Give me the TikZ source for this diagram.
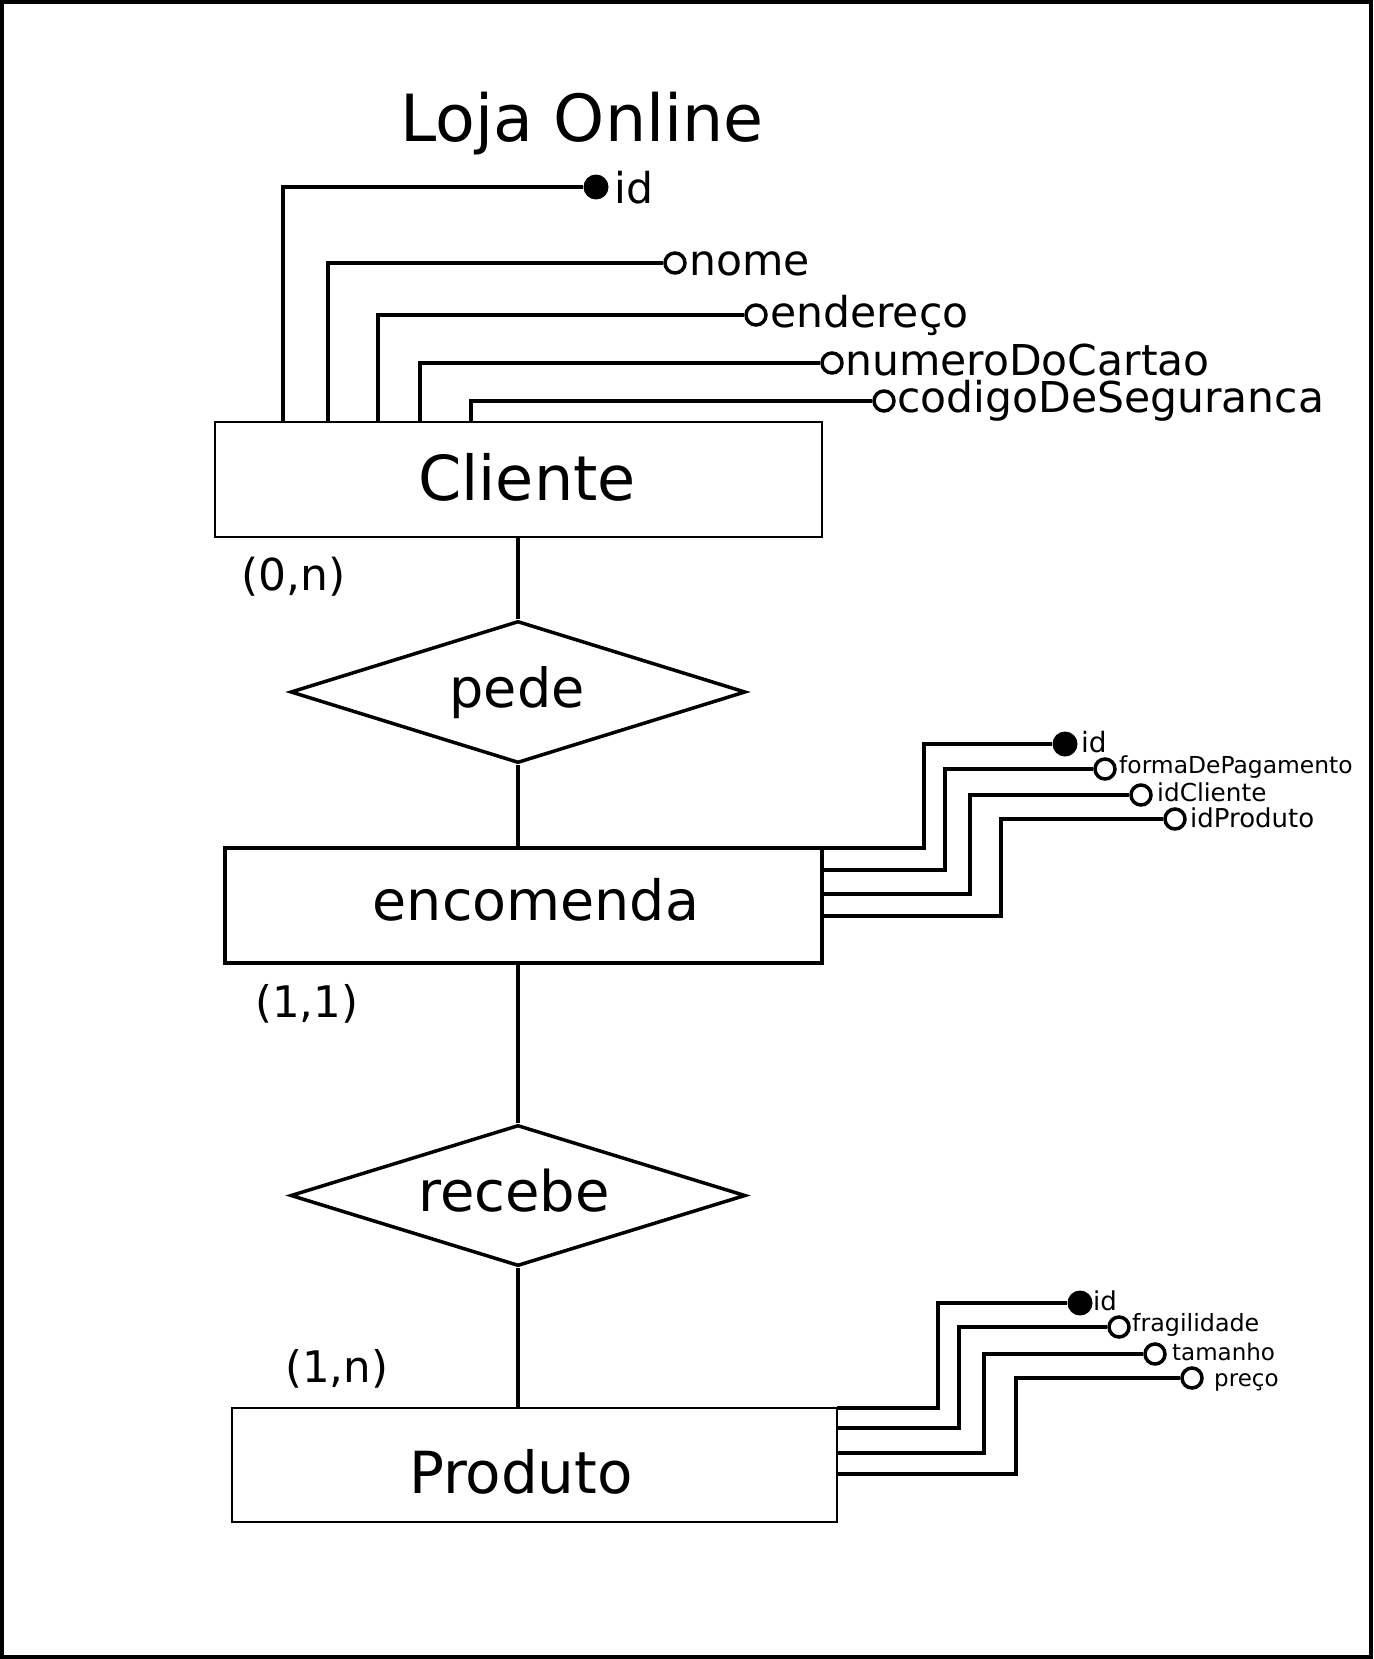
\documentclass[tikz,border=0pt]{standalone}
\usepackage{fontspec}
\setmainfont{DejaVu Sans}
\usetikzlibrary{shapes.geometric,calc}
\newcommand\myfs[1]{\fontsize{#1}{#1}\selectfont}
\tikzset{
  ent/.style={draw, line width=2.5pt, inner sep=0pt},
  rel/.style={diamond, draw, line width=3.5pt, inner sep=0pt},
  conn/.style={line width=3.5pt},
  keyc/.style={circle, fill=black, minimum size=25pt, inner sep=0pt},
  attc/.style={circle, draw, line width=3.5pt, fill=white, minimum size=20pt, inner sep=0pt},
  lbl/.style={anchor=base west, inner sep=0pt},
  big/.style={anchor=base, inner sep=0pt},
}
\begin{document}
\begin{tikzpicture}[x=1pt, y=-1pt]
\useasboundingbox (0,0) rectangle (1373,1659);
\draw[line width=4pt] (2,2) rectangle (1371,1657);

% title
\node[big, font=\myfs{65}] (title) at (582,142) {Loja Online};

% entities
\node[ent, minimum width=607pt, minimum height=115pt] (cli) at (518.5,479.5) {};
\node[big, font=\myfs{62}] (clit) at (527,500) {Cliente};
\node[ent, line width=4pt, minimum width=597pt, minimum height=115pt] (enc) at (523.5,905.5) {};
\node[big, font=\myfs{55.5}] (enct) at (536,920) {encomenda};
\node[ent, minimum width=605pt, minimum height=114pt] (prod) at (534.5,1465) {};
\node[big, font=\myfs{58}] (prodt) at (521,1493) {Produto};

% relationships
\node[rel, minimum width=455pt, minimum height=142pt] (pede) at (518,692) {};
\node[big, font=\myfs{54}] (pedet) at (517,707) {pede};
\node[rel, minimum width=455pt, minimum height=141pt] (rec) at (518,1195.5) {};
\node[big, font=\myfs{56}] (rect) at (514,1211) {recebe};

% main connectors
\draw[conn] (pede.north |- cli.south) -- (pede.north);
\draw[conn] (pede.south) -- (pede.south |- enc.north);
\draw[conn] (rec.north |- enc.south) -- (rec.north);
\draw[conn] (rec.south) -- (rec.south |- prod.north);

% cardinalities
\node[lbl, font=\myfs{44}] (card1) at (241,590) {(0,n)};
\node[lbl, font=\myfs{43.5}] (card2) at (255,1017) {(1,1)};
\node[lbl, font=\myfs{43.5}] (card3) at (285,1382) {(1,n)};

% Cliente attributes
\node[keyc] (c1) at (596,187) {};
\node[attc] (c2) at (675,263) {};
\node[attc] (c3) at (756,315) {};
\node[attc] (c4) at (832,363) {};
\node[attc] (c5) at (884,401) {};
\coordinate (ca1) at (283,422);
\coordinate (ca2) at (328,422);
\coordinate (ca3) at (378,422);
\coordinate (ca4) at (420,422);
\coordinate (ca5) at (471,422);
\draw[conn] (ca1) |- (c1);
\draw[conn] (ca2) |- (c2);
\draw[conn] (ca3) |- (c3);
\draw[conn] (ca4) |- (c4);
\draw[conn] (ca5) |- (c5);
\node[lbl, font=\myfs{42.5}] (cl1) at (614,203) {id};
\node[lbl, font=\myfs{42.5}] (cl2) at (689,275) {nome};
\node[lbl, font=\myfs{42.5}] (cl3) at (770,327) {endereço};
\node[lbl, font=\myfs{42.5}, text depth=0pt] (cl4) at (845,375) {numeroDoCartao};
\node[lbl, font=\myfs{42.5}] (cl5) at (897,412) {codigoDeSeguranca};

% encomenda attributes
\node[keyc] (e1) at (1065,744) {};
\node[attc] (e2) at (1105,769) {};
\node[attc] (e3) at (1141,795) {};
\node[attc] (e4) at (1175,819) {};
\coordinate (ea1) at (822,848);
\coordinate (ea2) at (822,870);
\coordinate (ea3) at (822,894);
\coordinate (ea4) at (822,916);
\coordinate (eb1) at (924,744);
\coordinate (eb2) at (945,769);
\coordinate (eb3) at (970,795);
\coordinate (eb4) at (1001,819);
\draw[conn, line width=4pt] (ea1) -| (eb1) -- (e1);
\draw[conn, line width=4pt] (ea2) -| (eb2) -- (e2);
\draw[conn, line width=4pt] (ea3) -| (eb3) -- (e3);
\draw[conn, line width=4pt] (ea4) -| (eb4) -- (e4);
\node[lbl, font=\myfs{28}] (el1) at (1081,752) {id};
\node[lbl, font=\myfs{23.4}] (el2) at (1119,773) {formaDePagamento};
\node[lbl, font=\myfs{24.7}] (el3) at (1157,801) {idCliente};
\node[lbl, font=\myfs{26}] (el4) at (1190,827) {idProduto};

% Produto attributes
\node[keyc] (p1) at (1080,1303) {};
\node[attc] (p2) at (1119,1327) {};
\node[attc] (p3) at (1155,1354) {};
\node[attc] (p4) at (1192,1378) {};
\coordinate (pa1) at (837,1408);
\coordinate (pa2) at (837,1428);
\coordinate (pa3) at (837,1453);
\coordinate (pa4) at (837,1474);
\coordinate (pb1) at (938,1303);
\coordinate (pb2) at (959,1327);
\coordinate (pb3) at (984,1354);
\coordinate (pb4) at (1016,1378);
\draw[conn] (pa1) -| (pb1) -- (p1);
\draw[conn] (pa2) -| (pb2) -- (p2);
\draw[conn] (pa3) -| (pb3) -- (p3);
\draw[conn] (pa4) -| (pb4) -- (p4);
\node[lbl, font=\myfs{26}] (pl1) at (1093,1310) {id};
\node[lbl, font=\myfs{23.8}] (pl2) at (1132,1331) {fragilidade};
\node[lbl, font=\myfs{23}] (pl3) at (1172,1360) {tamanho};
\node[lbl, font=\myfs{23}] (pl4) at (1214,1386) {preço};
\end{tikzpicture}
\end{document}
